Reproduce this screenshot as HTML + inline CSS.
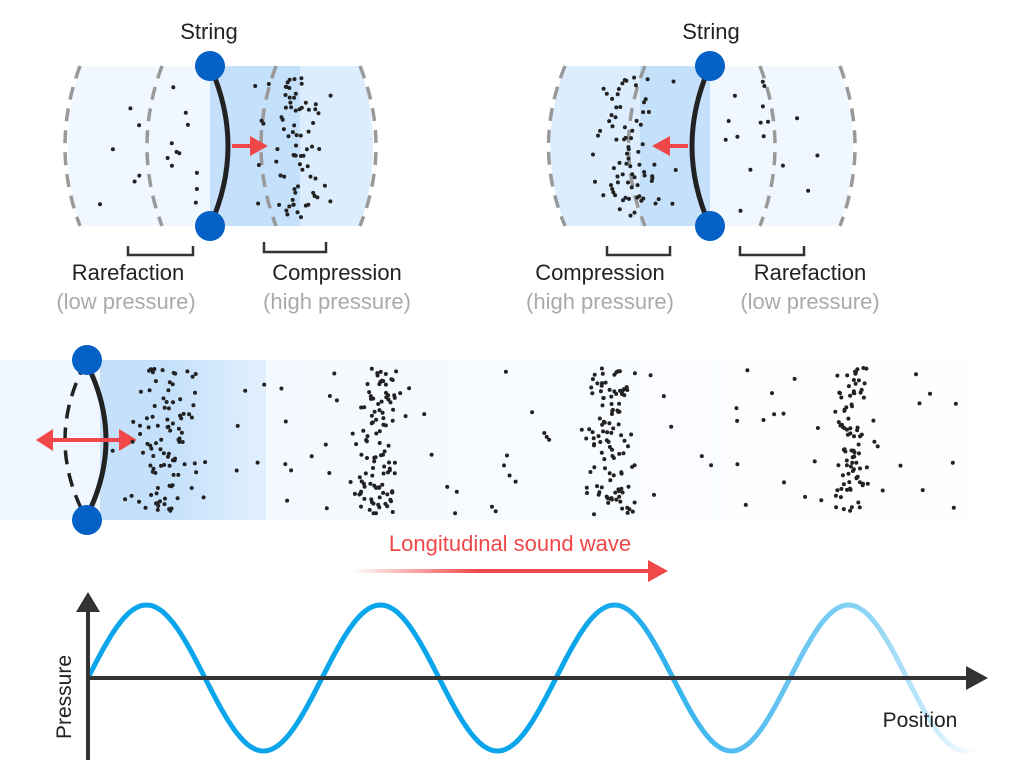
<!DOCTYPE html>
<html><head><meta charset="utf-8"><style>
html,body{margin:0;padding:0;background:#fff;width:1024px;height:776px;overflow:hidden}
svg{display:block}
text{font-family:"Liberation Sans",sans-serif}
</style></head><body>
<svg id="s" width="1024" height="776" viewBox="0 0 1024 776" xmlns="http://www.w3.org/2000/svg">
<defs>
<linearGradient id="g1" x1="0" x2="1"><stop offset="0" stop-color="#c4e0fb"/><stop offset="1" stop-color="#e2f0fd"/></linearGradient>
<linearGradient id="g2" x1="0" x2="1"><stop offset="0" stop-color="#f0f7ff"/><stop offset="1" stop-color="#ffffff"/></linearGradient>
<linearGradient id="ga" x1="352" x2="668" gradientUnits="userSpaceOnUse"><stop offset="0" stop-color="#f04848" stop-opacity="0"/><stop offset="0.4" stop-color="#f04848"/><stop offset="1" stop-color="#f04848"/></linearGradient>
<linearGradient id="gw" x1="88" x2="975" gradientUnits="userSpaceOnUse"><stop offset="0" stop-color="#0aa5ea"/><stop offset="0.55" stop-color="#0aa5ea"/><stop offset="0.8" stop-color="#6cc6f2"/><stop offset="1" stop-color="#0aa5ea" stop-opacity="0"/></linearGradient>
</defs>
<path d="M80 66 H210 V226 H80 Q56 146 80 66Z" fill="#f0f7ff"/>
<path d="M210 66 H300 V226 H210Z" fill="#c4e0fb"/>
<path d="M300 66 H360 Q386 146 360 226 H300Z" fill="#dceefe"/>
<g fill="none" stroke="#999" stroke-width="3.5" stroke-dasharray="13 9">
<path d="M80 66 Q50 146 80 226"/><path d="M162 66 Q132 146 162 226"/>
<path d="M276 66 Q246 146 276 226"/><path d="M360 66 Q392 146 360 226"/>
</g>
<path d="M210 66 Q246 146 210 226" fill="none" stroke="#222" stroke-width="5"/>
<circle cx="210" cy="66" r="15" fill="#0561c6"/><circle cx="210" cy="226" r="15" fill="#0561c6"/>
<path d="M232 146 H252" stroke="#f04848" stroke-width="4"/><path d="M250 136 L268 146 L250 156Z" fill="#f04848"/>
<path d="M565 66 H640 V226 H565 Q536 146 565 66Z" fill="#dceefe"/>
<path d="M640 66 H710 V226 H640Z" fill="#c4e0fb"/>
<path d="M710 66 H840 Q866 146 840 226 H710Z" fill="#f0f7ff"/>
<g fill="none" stroke="#999" stroke-width="3.5" stroke-dasharray="13 9">
<path d="M565 66 Q532 146 565 226"/><path d="M645 66 Q612 146 645 226"/>
<path d="M760 66 Q790 146 760 226"/><path d="M840 66 Q870 146 840 226"/>
</g>
<path d="M710 66 Q674 146 710 226" fill="none" stroke="#222" stroke-width="5"/>
<circle cx="710" cy="66" r="15" fill="#0561c6"/><circle cx="710" cy="226" r="15" fill="#0561c6"/>
<path d="M688 146 H668" stroke="#f04848" stroke-width="4"/><path d="M670 136 L652 146 L670 156Z" fill="#f04848"/>
<g font-size="22" fill="#222" text-anchor="middle">
<text x="209" y="39">String</text><text x="711" y="39">String</text>
<text x="128" y="280">Rarefaction</text><text x="337" y="280">Compression</text>
<text x="600" y="280">Compression</text><text x="810" y="280">Rarefaction</text>
</g>
<g font-size="22" fill="#aaa" text-anchor="middle">
<text x="126" y="309">(low pressure)</text><text x="337" y="309">(high pressure)</text>
<text x="600" y="309">(high pressure)</text><text x="810" y="309">(low pressure)</text>
</g>
<g fill="none" stroke="#333" stroke-width="2.5">
<path d="M128 246 V255 H193 V246"/><path d="M264 242 V252 H326 V242"/>
<path d="M607 246 V255 H670 V246"/><path d="M740 246 V255 H804 V246"/>
</g>
<rect x="0" y="360" width="1024" height="160" fill="url(#g2)"/>
<rect x="0" y="360" width="266" height="160" fill="#f0f7ff"/>
<rect x="100" y="360" width="67" height="160" fill="#c4e0fb"/>
<rect x="167" y="360" width="99" height="160" fill="url(#g1)"/>
<path d="M86 362 Q44 440 86 518" fill="none" stroke="#222" stroke-width="3.5" stroke-dasharray="14 9"/>
<path d="M86 362 Q126 440 86 518" fill="none" stroke="#222" stroke-width="5"/>
<circle cx="87" cy="360" r="15" fill="#0561c6"/><circle cx="87" cy="520" r="15" fill="#0561c6"/>
<path d="M50 440 H120" stroke="#f04848" stroke-width="4"/>
<path d="M53 429 L36 440 L53 451Z" fill="#f04848"/><path d="M119 429 L137 440 L119 451Z" fill="#f04848"/>
<g id="dots" fill="#222"></g>
<text x="510" y="551" font-size="22" fill="#f04848" text-anchor="middle">Longitudinal sound wave</text>
<path d="M352 571 H650" stroke="url(#ga)" stroke-width="4"/><path d="M648 560 L668 571 L648 582Z" fill="#f04848"/>
<path id="wave" fill="none" stroke="url(#gw)" stroke-width="5"/>
<path d="M88 760 V608" stroke="#333" stroke-width="4"/><path d="M76 612 L88 592 L100 612Z" fill="#333"/>
<path d="M86 678 H968" stroke="#333" stroke-width="4"/><path d="M966 666 L988 678 L966 690Z" fill="#333"/>
<text x="920" y="727" font-size="21" fill="#222" text-anchor="middle">Position</text>
<text transform="translate(71,697) rotate(-90)" font-size="21" fill="#222" text-anchor="middle">Pressure</text>
</svg>
<script>
var seed=7;function r(){seed=(seed*16807)%2147483647;return seed/2147483647;}
function g(){return (r()+r()+r()+r()-2)/2;}
var D=document.getElementById('dots'),h='';
function dot(x,y){h+='<circle cx="'+x.toFixed(1)+'" cy="'+y.toFixed(1)+'" r="2"/>';}
function cluster(cx,n,w,y0,y1){for(var i=0;i<n;i++){var y=y0+r()*(y1-y0);dot(cx+g()*w,y);}}
function sparse(x0,x1,n,y0,y1){for(var i=0;i<n;i++)dot(x0+r()*(x1-x0),y0+r()*(y1-y0));}
sparse(100,205,17,80,215);cluster(295,70,45,76,218);sparse(250,345,8,80,215);
cluster(628,70,45,76,218);sparse(590,680,8,80,215);sparse(720,830,16,80,215);
cluster(165,85,45,368,512);sparse(110,270,20,370,515);
sparse(265,340,12,370,515);cluster(378,110,38,368,515);sparse(420,560,16,370,515);
cluster(610,110,42,368,515);sparse(650,800,16,370,515);
cluster(853,85,30,368,512);sparse(790,960,20,370,515);
D.innerHTML=h;
var p='M88 678';for(var x=88;x<=975;x+=2){p+=' L'+x+' '+(678-73*Math.sin((x-88)/234*2*Math.PI)).toFixed(1);}
document.getElementById('wave').setAttribute('d',p);
</script>
</body></html>
